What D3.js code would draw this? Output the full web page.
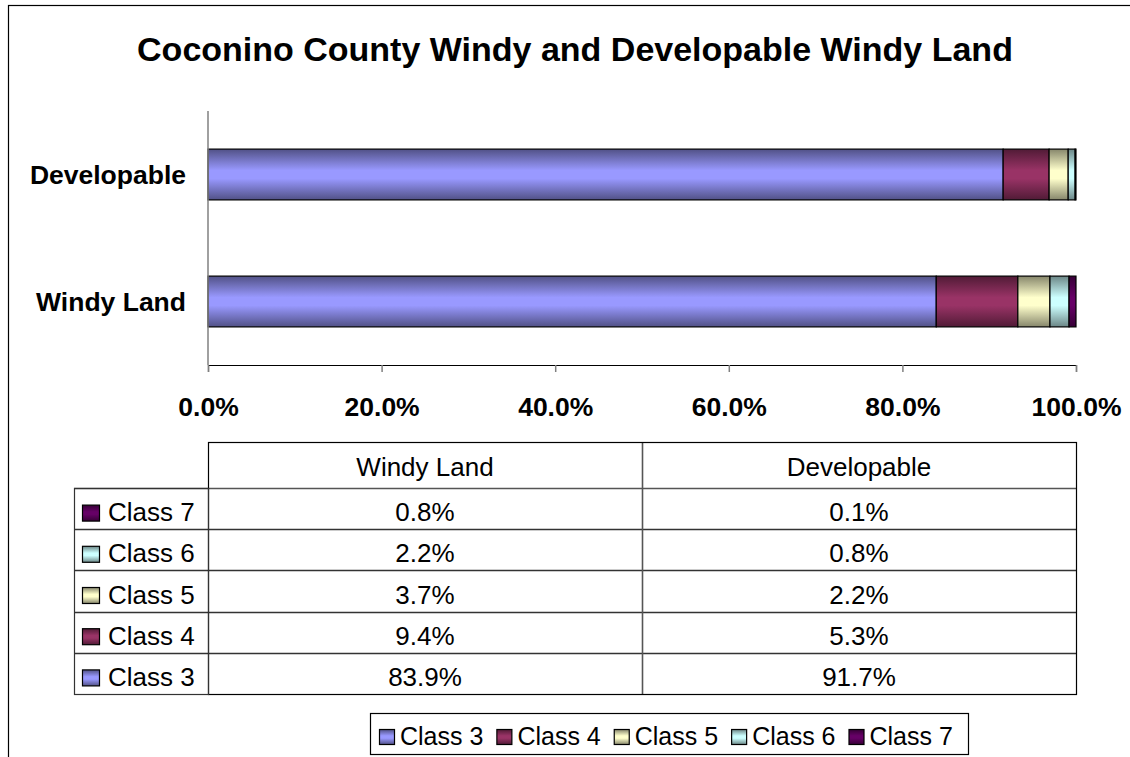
<!DOCTYPE html>
<html>
<head>
<meta charset="utf-8">
<script src="https://cdn.jsdelivr.net/npm/d3@7/dist/d3.min.js"></script>
<style>
  body { margin: 0; background: #fff; }
  text { font-family: "Liberation Sans", Arial, sans-serif; }
</style>
</head>
<body>
<div id="chart"></div>
<script>
// ===== DATA =====
const categories = ["Developable", "Windy Land"];
const classes = ["Class 3", "Class 4", "Class 5", "Class 6", "Class 7"];
const windyLand = [83.9, 9.4, 3.7, 2.2, 0.8];
const developable = [91.7, 5.3, 2.2, 0.8, 0.1];
const xTicks = [0, 20, 40, 60, 80, 100];
const classColors = ["#9999ff", "#993366", "#ffffcc", "#ccffff", "#660066"];
const tableColumns = ["Windy Land", "Developable"];

const W = 1130, H = 757;
const plot = { left: 208, right: 1076, top: 111, bottom: 365 };

const svg = d3.select("#chart").append("svg")
  .attr("width", W).attr("height", H);

// outer frame (runs off the right and bottom of the picture)
svg.append("rect")
  .attr("x", 8.5).attr("y", 5.5)
  .attr("width", W + 10).attr("height", H + 10)
  .attr("fill", "#fff").attr("stroke", "#000").attr("stroke-width", 1.2);

// gradients: darker at top and bottom edges
const defs = svg.append("defs");
classes.forEach((c, i) => {
  const base = d3.color(classColors[i]);
  const g = defs.append("linearGradient")
    .attr("id", "grad" + i)
    .attr("x1", 0).attr("y1", 0).attr("x2", 0).attr("y2", 1);
  g.append("stop").attr("offset", "0%").attr("stop-color", base.darker(1.8));
  g.append("stop").attr("offset", "42%").attr("stop-color", base);
  g.append("stop").attr("offset", "58%").attr("stop-color", base);
  g.append("stop").attr("offset", "100%").attr("stop-color", base.darker(1.8));
});

// title
svg.append("text")
  .attr("x", 575).attr("y", 61)
  .attr("text-anchor", "middle")
  .attr("font-size", 34).attr("font-weight", "bold")
  .text("Coconino County Windy and Developable Windy Land");

// ===== SCALES =====
const x = d3.scaleLinear().domain([0, 100]).range([plot.left, plot.right]);
const y = d3.scaleBand().domain(categories)
  .range([plot.top, plot.bottom])
  .paddingInner(0.6).paddingOuter(0.3);

// stacked (100%) data
const valuesByCat = { "Windy Land": windyLand, "Developable": developable };
const rows = categories.map(cat => {
  const vals = valuesByCat[cat];
  const total = d3.sum(vals);
  const r = { cat };
  classes.forEach((c, i) => { r[c] = vals[i] / total * 100; });
  return r;
});
const stack = d3.stack().keys(classes)(rows);

const layer = svg.append("g").selectAll("g")
  .data(stack).enter().append("g")
  .attr("fill", (d, i) => `url(#grad${i})`);

layer.selectAll("rect")
  .data(d => d)
  .enter().append("rect")
  .attr("x", d => x(d[0]))
  .attr("y", d => y(d.data.cat))
  .attr("width", d => x(d[1]) - x(d[0]))
  .attr("height", y.bandwidth())
  .attr("stroke", "#000").attr("stroke-width", 1.2);

// ===== AXES =====
svg.append("line")
  .attr("x1", plot.left).attr("x2", plot.left)
  .attr("y1", plot.top).attr("y2", plot.bottom)
  .attr("stroke", "#808080").attr("stroke-width", 1.5);

const xAxis = svg.append("g")
  .attr("transform", `translate(0,${plot.bottom})`)
  .call(d3.axisBottom(x).tickValues(xTicks).tickSize(7).tickPadding(0)
    .tickFormat(d => d.toFixed(1) + "%"));
xAxis.select(".domain").attr("stroke", "#000").attr("stroke-width", 1.2);
xAxis.selectAll(".tick line").attr("stroke", "#808080").attr("stroke-width", 1.5);
xAxis.selectAll(".tick text")
  .attr("y", 51).attr("dy", null)
  .attr("font-size", 26.5).attr("font-weight", "bold").attr("fill", "#000")
  .attr("font-family", "Liberation Sans, Arial, sans-serif");

// category labels
svg.selectAll(".catLabel")
  .data(categories).enter().append("text")
  .attr("x", 186)
  .attr("y", d => y(d) + y.bandwidth() / 2 + 9)
  .attr("text-anchor", "end")
  .attr("font-size", 26.5).attr("font-weight", "bold")
  .text(d => d);

// ===== DATA TABLE =====
const tbl = { left: 74, colStart: 208, mid: 642, right: 1076, top: 442, head: 488, bottom: 694 };
const tableRows = classes.map((c, i) => ({ cls: c, idx: i })).reverse();
const rowY = d3.scaleBand().domain(tableRows.map(r => r.cls)).range([tbl.head, tbl.bottom]);
const FS = 26;

const t = svg.append("g");
// row lines
t.selectAll(".rowLine")
  .data(tableRows.slice(1).map(r => rowY(r.cls)))
  .enter().append("line")
  .attr("x1", tbl.left).attr("x2", tbl.right)
  .attr("y1", d => Math.round(d) + 0.5).attr("y2", d => Math.round(d) + 0.5)
  .attr("stroke", "#333").attr("stroke-width", 1.3);
t.append("line")
  .attr("x1", tbl.left).attr("x2", tbl.right)
  .attr("y1", tbl.head + 0.5).attr("y2", tbl.head + 0.5)
  .attr("stroke", "#555").attr("stroke-width", 1.6);
// column divider
t.append("line")
  .attr("x1", tbl.mid + 0.5).attr("x2", tbl.mid + 0.5)
  .attr("y1", tbl.top).attr("y2", tbl.bottom)
  .attr("stroke", "#555").attr("stroke-width", 1.6);
// header box
t.append("rect")
  .attr("x", tbl.colStart + 0.5).attr("y", tbl.top + 0.5)
  .attr("width", tbl.right - tbl.colStart).attr("height", tbl.bottom - tbl.top)
  .attr("fill", "none").attr("stroke", "#000").attr("stroke-width", 1.2);
// row label box
t.append("rect")
  .attr("x", tbl.left + 0.5).attr("y", tbl.head + 0.5)
  .attr("width", tbl.colStart - tbl.left).attr("height", tbl.bottom - tbl.head)
  .attr("fill", "none").attr("stroke", "#333").attr("stroke-width", 1.2);

// header text
const colCenters = [(tbl.colStart + tbl.mid) / 2, (tbl.mid + tbl.right) / 2];
t.selectAll(".colHead")
  .data(tableColumns).enter().append("text")
  .attr("x", (d, i) => colCenters[i])
  .attr("y", (tbl.top + tbl.head) / 2 + 11)
  .attr("text-anchor", "middle").attr("font-size", FS)
  .text(d => d);

// row labels with swatches
const rg = t.selectAll(".tRow").data(tableRows).enter().append("g");
rg.append("rect")
  .attr("x", 82.5)
  .attr("y", d => rowY(d.cls) + rowY.bandwidth() / 2 - 3.5)
  .attr("width", 17).attr("height", 16)
  .attr("fill", d => `url(#grad${d.idx})`)
  .attr("stroke", "#000").attr("stroke-width", 1.2);
rg.append("text")
  .attr("x", 108)
  .attr("y", d => rowY(d.cls) + rowY.bandwidth() / 2 + 12.5)
  .attr("font-size", FS)
  .text(d => d.cls);
rg.selectAll(".cell")
  .data(d => [windyLand[d.idx], developable[d.idx]].map(v => ({ v, cls: d.cls })))
  .enter().append("text")
  .attr("x", (d, i) => colCenters[i])
  .attr("y", d => rowY(d.cls) + rowY.bandwidth() / 2 + 12.5)
  .attr("text-anchor", "middle").attr("font-size", FS)
  .text(d => d.v.toFixed(1) + "%");

// ===== LEGEND =====
const legend = svg.append("g");
legend.append("rect")
  .attr("x", 370.5).attr("y", 713.5)
  .attr("width", 598).attr("height", 41)
  .attr("fill", "#fff").attr("stroke", "#000").attr("stroke-width", 1.2);

let lx = 379;
classes.forEach((c, i) => {
  legend.append("rect")
    .attr("x", lx + 0.5).attr("y", 729.5)
    .attr("width", 15).attr("height", 15)
    .attr("fill", `url(#grad${i})`)
    .attr("stroke", "#000").attr("stroke-width", 1.2);
  const txt = legend.append("text")
    .attr("x", lx + 21).attr("y", 745)
    .attr("font-size", 25)
    .text(c);
  lx += 21 + txt.node().getComputedTextLength() + 13;
});
</script>
</body>
</html>
